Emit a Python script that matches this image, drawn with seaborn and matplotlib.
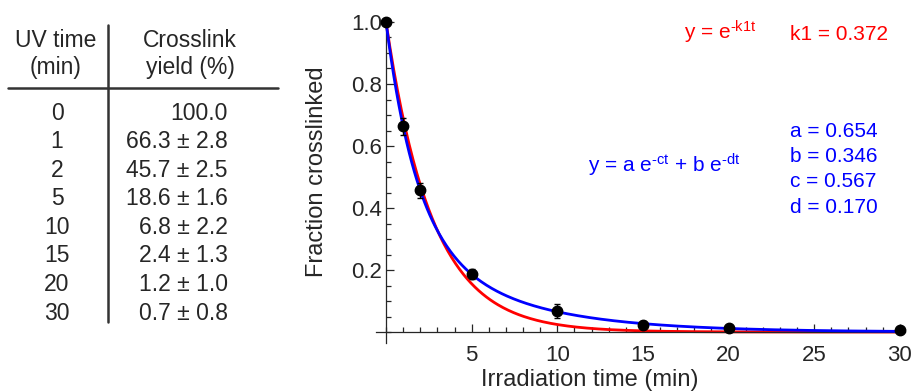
import numpy as np
import pandas as pd
import matplotlib
matplotlib.use("Agg")
import matplotlib.pyplot as plt
from matplotlib.ticker import MultipleLocator
import seaborn as sns

# measured data (table + points)
uv_time = [0, 1, 2, 5, 10, 15, 20, 30]
yield_pct = [100.0, 66.3, 45.7, 18.6, 6.8, 2.4, 1.2, 0.7]
yield_err = [0.0, 2.8, 2.5, 1.6, 2.2, 1.3, 1.0, 0.8]

# fit parameters shown on the chart
k1 = 0.372
fit_a, fit_b, fit_c, fit_d = 0.654, 0.346, 0.567, 0.170

sns.set_style("ticks")
plt.rcParams['font.family'] = ['Liberation Sans', 'DejaVu Sans']
plt.rcParams['mathtext.fontset'] = 'custom'
plt.rcParams['mathtext.rm'] = 'Liberation Sans'
plt.rcParams['mathtext.default'] = 'regular'

fig = plt.figure(figsize=(9.12, 3.92), dpi=100)

# ---- table on the left (pixel coords) ----
tab = fig.add_axes([0, 0, 300 / 912, 1])
tab.set_xlim(0, 300)
tab.set_ylim(392, 0)
tab.axis("off")
fs_tab = 16.5
tab.text(56, 40, "UV time", ha="center", va="center", fontsize=fs_tab)
tab.text(56, 67, "(min)", ha="center", va="center", fontsize=fs_tab)
tab.text(190, 40, "Crosslink", ha="center", va="center", fontsize=fs_tab)
tab.text(190, 67, "yield (%)", ha="center", va="center", fontsize=fs_tab)
tab.plot([8, 278], [88, 88], color="#333333", lw=1.8)
tab.plot([108, 108], [25, 322], color="#333333", lw=1.8)
for i, (t, y, e) in enumerate(zip(uv_time, yield_pct, yield_err)):
    row_y = 113 + i * 28.6
    tab.text(57, row_y, str(t), ha="center", va="center", fontsize=fs_tab)
    s = f"{y:.1f}" if e == 0 else f"{y:.1f} \u00b1 {e:.1f}"
    tab.text(228, row_y, s, ha="right", va="center", fontsize=fs_tab)

# ---- plot ----
ax = fig.add_axes([0.412, 0.1253, 0.9923 - 0.412, 0.9439 - 0.1253])

t_fit = np.linspace(0, 30, 400)
curves = pd.DataFrame({
    "t": np.concatenate([t_fit, t_fit]),
    "y": np.concatenate([np.exp(-k1 * t_fit),
                         fit_a * np.exp(-fit_c * t_fit) + fit_b * np.exp(-fit_d * t_fit)]),
    "fit": ["single"] * len(t_fit) + ["double"] * len(t_fit),
})
sns.lineplot(data=curves, x="t", y="y", hue="fit", palette={"single": "#ff0000", "double": "#0000ff"},
             sort=False, lw=2.0, legend=False, ax=ax, clip_on=False)
ax.lines[1].set_zorder(3)

frac = np.array(yield_pct) / 100
frac_err = np.array(yield_err) / 100
ax.errorbar(uv_time, frac, yerr=frac_err, fmt="o", color="black", ms=7.5,
            capsize=2, elinewidth=1, capthick=1, zorder=4, clip_on=False)

ax.set_xlim(-0.6, 30.3)
ax.set_ylim(-0.035, 1.0)
for side in ["top", "right"]:
    ax.spines[side].set_visible(False)
ax.spines["left"].set_position(("data", 0))
ax.spines["bottom"].set_position(("data", 0))
ax.spines["left"].set_linewidth(0.9)
ax.spines["bottom"].set_linewidth(0.9)

ax.set_xticks([5, 10, 15, 20, 25, 30])
ax.set_yticks([0.2, 0.4, 0.6, 0.8, 1.0])
ax.set_yticklabels(["0.2", "0.4", "0.6", "0.8", "1.0"])
ax.xaxis.set_minor_locator(MultipleLocator(1))
ax.yaxis.set_minor_locator(MultipleLocator(0.05))
ax.tick_params(which="major", direction="in", length=6, width=0.9, labelsize=16)
ax.tick_params(which="minor", direction="in", length=3.5, width=0.9)
ax.tick_params(axis="x", which="major", pad=9)
ax.tick_params(axis="y", which="major", pad=3)

ax.set_xlabel("Irradiation time (min)", fontsize=17)
ax.set_ylabel("Fraction crosslinked", fontsize=17)
ax.xaxis.set_label_coords(0.405, -0.082)
ax.yaxis.set_label_coords(-0.09, 0.535)

# annotations
fs_ann = 15
ax.text(17.4, 0.942, "y = e$^{\u2010k1t}$", color="#ff0000", fontsize=fs_ann, va="baseline")
ax.text(23.6, 0.942, f"k1 = {k1:.3f}", color="#ff0000", fontsize=fs_ann, va="baseline")
ax.text(11.8, 0.513, "y = a e$^{\u2010ct}$ + b e$^{\u2010dt}$", color="#0000ff", fontsize=fs_ann, va="baseline")
for name, val, yb in zip("abcd", [fit_a, fit_b, fit_c, fit_d], [0.629, 0.548, 0.468, 0.384]):
    ax.text(23.6, yb, f"{name} = {val:.3f}", color="#0000ff", fontsize=fs_ann, va="baseline")

fig.savefig("out.png", dpi=100)
